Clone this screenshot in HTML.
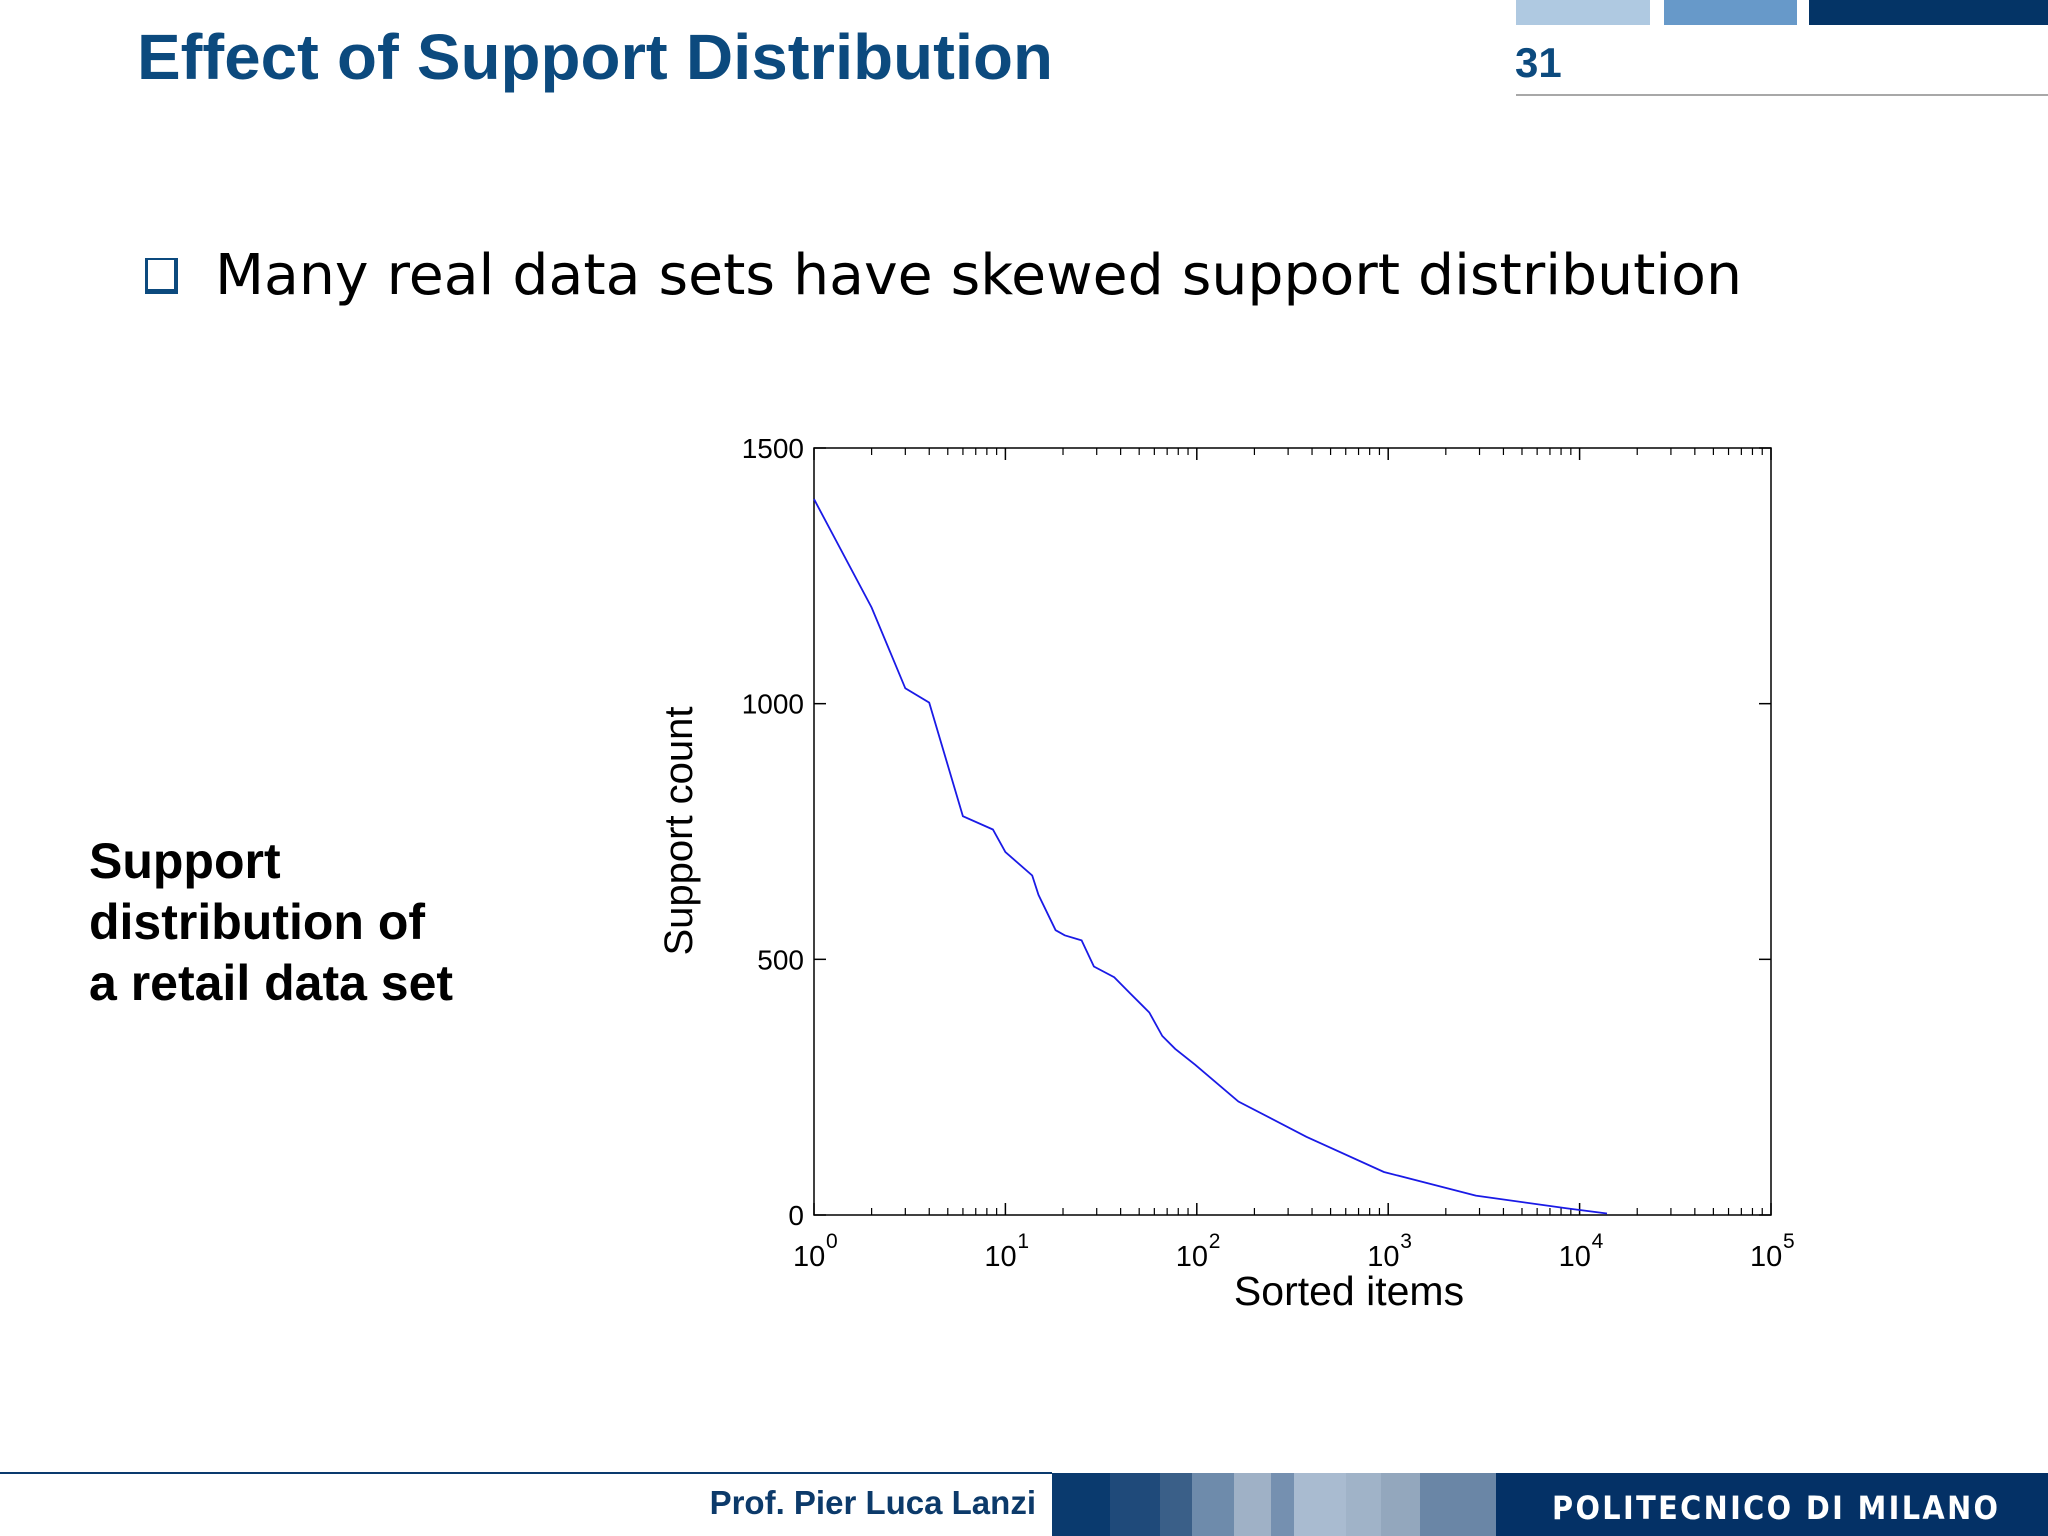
<!DOCTYPE html>
<html><head><meta charset="utf-8"><style>
html,body{margin:0;padding:0;background:#fff;}
svg{display:block;}
</style></head><body>
<svg id="slide" width="2048" height="1536" viewBox="0 0 2048 1536" xmlns="http://www.w3.org/2000/svg">
<rect x="0" y="0" width="2048" height="1536" fill="#ffffff"/>
<g>
<rect x="1516" y="0" width="134" height="25" fill="#afc9e1"/>
<rect x="1664" y="0" width="133" height="25" fill="#6799c9"/>
<rect x="1809" y="0" width="239" height="25" fill="#043466"/>
<text x="137" y="79" font-family="'Liberation Sans',sans-serif" font-weight="bold" font-size="64" fill="#0c4a7e" textLength="916" lengthAdjust="spacingAndGlyphs">Effect of Support Distribution</text>
<text x="1515" y="77" font-family="'Liberation Sans',sans-serif" font-weight="bold" font-size="42" fill="#0c4a7e">31</text>
<rect x="1516" y="94" width="532" height="2" fill="#a8a8a8"/>
</g>
<g>
<rect x="145" y="258" width="33" height="36" fill="#0c4a7e"/>
<rect x="148" y="260" width="26" height="29" fill="#fff"/>
<text x="215" y="294" font-family="'DejaVu Sans',sans-serif" font-size="56" fill="#000" textLength="1527" lengthAdjust="spacingAndGlyphs">Many real data sets have skewed support distribution</text>
</g>
<g font-family="'Liberation Sans',sans-serif" font-weight="bold" font-size="50" fill="#000">
<text x="89" y="878">Support</text>
<text x="89" y="939">distribution of</text>
<text x="89" y="1000">a retail data set</text>
</g>
<g id="chart"></g>
<g>
<rect x="0" y="1472" width="1052" height="2" fill="#0a3a6e"/>
<text x="1036" y="1514" text-anchor="end" font-family="'Liberation Sans',sans-serif" font-weight="bold" font-size="33" fill="#0c3a6a">Prof. Pier Luca Lanzi</text>
<g id="stripes"></g>
<text x="1552" y="1519" font-family="'DejaVu Sans Condensed','DejaVu Sans',sans-serif" font-weight="bold" font-size="32" fill="#fff" textLength="446" lengthAdjust="spacing">POLITECNICO DI MILANO</text>
</g>
</svg>
<script>
// chart data
var items = [1, 2, 3, 4, 6, 8.6, 10, 13.8, 14.9, 18.3, 20.4, 25, 29, 37, 44.7, 56.5, 66, 77, 98, 165, 374, 950, 2870, 8600, 13900];
var support = [1400, 1188, 1030, 1002, 780, 754, 710, 664, 626, 557, 547, 537, 486, 465, 434, 396, 350, 325, 294, 222, 153, 84, 38, 13, 3];
var yTicks = [0, 500, 1000, 1500];
var xDecades = [0, 1, 2, 3, 4, 5];

var NS = 'http://www.w3.org/2000/svg';
var L = 814, T = 448, R = 1771, B = 1215;
function xs(v){ return L + (Math.log10(v) - 0) / 5 * (R - L); }
function ys(v){ return B - v / 1500 * (B - T); }
function mk(tag, attrs, parent){ var e = document.createElementNS(NS, tag); for (var k in attrs) e.setAttribute(k, attrs[k]); parent.appendChild(e); return e; }
var g = document.getElementById('chart');

var box = mk('rect', {x:L, y:T, width:R-L, height:B-T, fill:'none', stroke:'#000', 'stroke-width':1.5}, g);



yTicks.forEach(function(v){
  var y = ys(v);
  var t1 = mk('line', {x1:L, x2:L+12, y1:y, y2:y, stroke:'#000', 'stroke-width':1.5}, g);
  
  
  var t2 = mk('line', {x1:R-12, x2:R, y1:y, y2:y, stroke:'#000', 'stroke-width':1.5}, g);
  
  
  var lb = mk('text', {x:L-10, y:y+10, 'text-anchor':'end', 'font-family':"'Liberation Sans',sans-serif", 'font-size':28, fill:'#000'}, g);
  
  
  lb.textContent = String(v);
});

xDecades.forEach(function(d){
  var x = xs(Math.pow(10, d));
  var a = mk('line', {x1:x, x2:x, y1:B, y2:B-12, stroke:'#000', 'stroke-width':1.5}, g);
  
  
  var b = mk('line', {x1:x, x2:x, y1:T, y2:T+12, stroke:'#000', 'stroke-width':1.5}, g);
  
  
  var lb = mk('text', {x:x-21, y:B+51, 'font-family':"'Liberation Sans',sans-serif", 'font-size':29, fill:'#000'}, g);
  
  
  lb.textContent = '10';
  var sp = mk('text', {x:x+12, y:B+33, 'font-family':"'Liberation Sans',sans-serif", 'font-size':21, fill:'#000'}, g);
  
  
  sp.textContent = String(d);
  if (d < 5) {
    for (var m = 2; m <= 9; m++) {
      var xm = xs(m * Math.pow(10, d));
      var c = mk('line', {x1:xm, x2:xm, y1:B, y2:B-7, stroke:'#000', 'stroke-width':1.2}, g);
      
      
      var e = mk('line', {x1:xm, x2:xm, y1:T, y2:T+7, stroke:'#000', 'stroke-width':1.2}, g);
      
      
    }
  }
});

var xt = mk('text', {x:1349, y:1305, 'text-anchor':'middle', 'font-family':"'Liberation Sans',sans-serif", 'font-size':41, fill:'#000'}, g);


xt.textContent = 'Sorted items';
var yt = mk('text', {x:0, y:0, transform:'translate(692,831) rotate(-90)', 'text-anchor':'middle', 'font-family':"'Liberation Sans',sans-serif", 'font-size':40, fill:'#000'}, g);


yt.textContent = 'Support count';

var d = '';
for (var i = 0; i < items.length; i++) d += (i ? 'L' : 'M') + xs(items[i]).toFixed(1) + ',' + ys(support[i]).toFixed(1);
var line = mk('path', {d:d, fill:'none', stroke:'#1a1ae6', 'stroke-width':1.8}, g);



var sb = [1052,1110,1160,1192,1234,1271,1294,1346,1381,1420,1496,2048];
var sc = ['#0a3a6e','#1f4a7a','#3a5f88','#6e8bab','#9fb1c6','#7590b0','#a9bbd0','#a0b3c8','#93a7bd','#6a86a6','#043166'];
var sg = document.getElementById('stripes');
for (var j = 0; j < sc.length; j++) {
  var r = mk('rect', {x:sb[j], y:1473, width:sb[j+1]-sb[j], height:63, fill:sc[j]}, sg);
  
  
}
</script>
</body></html>
